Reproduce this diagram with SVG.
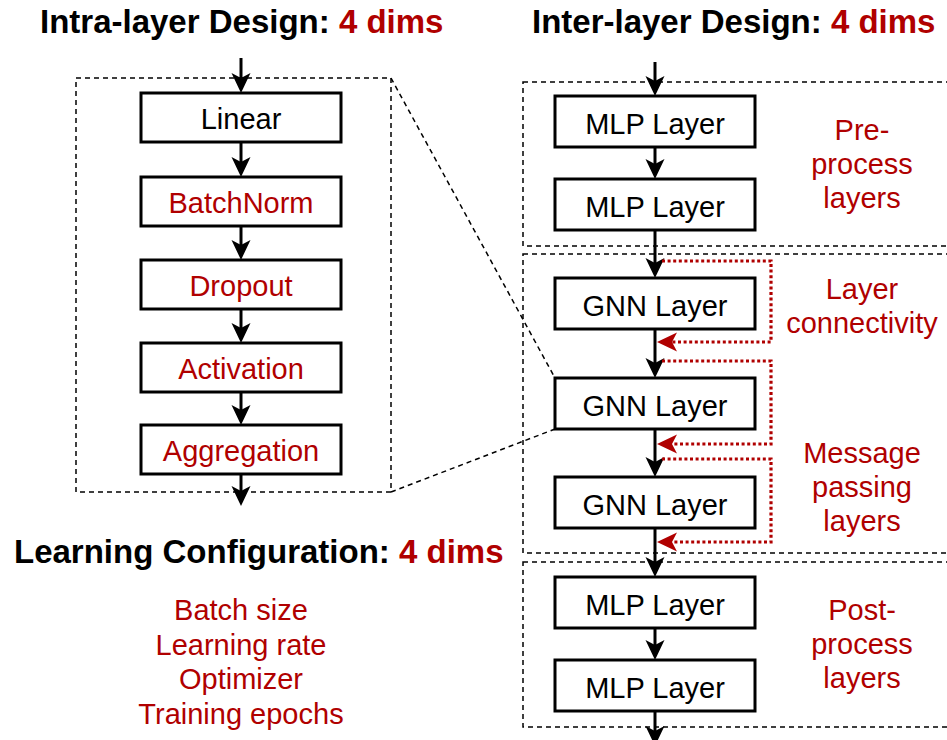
<svg xmlns="http://www.w3.org/2000/svg" width="947" height="740" viewBox="0 0 947 740">
  <style>
    text { font-family: "Liberation Sans", Arial, Helvetica, sans-serif; }
    .title { font-size: 33px; font-weight: bold; fill: #000; }
    .hl { fill: #b00000; }
    .lbl { font-size: 29px; text-anchor: middle; fill: #000; }
    .red { fill: #b00000; }
    .box { fill: #fff; stroke: #000; stroke-width: 3; }
    .region { fill: none; stroke: #000; stroke-width: 1.5; stroke-dasharray: 5 4; }
    .flow { fill: none; stroke: #000; stroke-width: 3; marker-end: url(#arrow); }
    .skip { fill: none; stroke: #b00000; stroke-width: 3.2; stroke-dasharray: 3 2.6; marker-end: url(#arrowRed); }
  </style>
  <defs>
    <marker id="arrow" viewBox="0 0 20 20" markerWidth="20" markerHeight="20" refX="16" refY="10" orient="auto" markerUnits="userSpaceOnUse">
      <path d="M0,0.5 L20,10 L0,19.5 L5,10 Z" fill="#000"/>
    </marker>
    <marker id="arrowRed" viewBox="0 0 20 20" markerWidth="20" markerHeight="20" refX="16" refY="10" orient="auto" markerUnits="userSpaceOnUse">
      <path d="M0,0.5 L20,10 L0,19.5 L5,10 Z" fill="#b00000"/>
    </marker>
  </defs>

  <!-- Section headings -->
  <text class="title" x="40" y="33">Intra-layer Design: <tspan class="hl">4 dims</tspan></text>
  <text class="title" x="532" y="33">Inter-layer Design: <tspan class="hl">4 dims</tspan></text>
  <text class="title" x="14" y="563">Learning Configuration: <tspan class="hl">4 dims</tspan></text>

  <!-- Dashed grouping regions -->
  <g id="regions">
    <rect class="region" x="76" y="78" width="315" height="414"/>
    <rect class="region" x="523" y="82" width="440" height="164"/>
    <rect class="region" x="523" y="254" width="440" height="299"/>
    <rect class="region" x="523" y="562" width="440" height="165"/>
    <!-- zoom lines from the layer detail to the GNN layer -->
    <line class="region" x1="391" y1="78" x2="555" y2="378"/>
    <line class="region" x1="391" y1="492" x2="555" y2="429"/>
  </g>

  <!-- Connectors -->
  <g id="connectors">
    <!-- intra-layer chain -->
    <line class="flow" x1="241" y1="58" x2="241" y2="89"/>
    <line class="flow" x1="241" y1="142" x2="241" y2="173"/>
    <line class="flow" x1="241" y1="226" x2="241" y2="256"/>
    <line class="flow" x1="241" y1="309" x2="241" y2="339"/>
    <line class="flow" x1="241" y1="392" x2="241" y2="421"/>
    <line class="flow" x1="241" y1="474" x2="241" y2="502"/>
    <!-- inter-layer chain -->
    <line class="flow" x1="655" y1="62" x2="655" y2="92"/>
    <line class="flow" x1="655" y1="147" x2="655" y2="175"/>
    <line class="flow" x1="655" y1="230" x2="655" y2="274"/>
    <line class="flow" x1="655" y1="329" x2="655" y2="374"/>
    <line class="flow" x1="655" y1="429" x2="655" y2="473"/>
    <line class="flow" x1="655" y1="528" x2="655" y2="573"/>
    <line class="flow" x1="655" y1="628" x2="655" y2="656"/>
    <line class="flow" x1="655" y1="711" x2="655" y2="742"/>
    <!-- skip connections -->
    <path class="skip" d="M662,261 H771 V342 H661"/>
    <path class="skip" d="M662,361 H771 V444 H661"/>
    <path class="skip" d="M662,459 H771 V542 H661"/>
  </g>

  <!-- Intra-layer nodes -->
  <g id="linear"><rect class="box" x="141" y="93" width="200" height="49"/><text class="lbl" x="241" y="129">Linear</text></g>
  <g id="batchnorm"><rect class="box" x="141" y="177" width="200" height="49"/><text class="lbl red" x="241" y="213">BatchNorm</text></g>
  <g id="dropout"><rect class="box" x="141" y="260" width="200" height="49"/><text class="lbl red" x="241" y="296">Dropout</text></g>
  <g id="activation"><rect class="box" x="141" y="343" width="200" height="49"/><text class="lbl red" x="241" y="379">Activation</text></g>
  <g id="aggregation"><rect class="box" x="141" y="425" width="200" height="49"/><text class="lbl red" x="241" y="461">Aggregation</text></g>

  <!-- Inter-layer nodes -->
  <g id="mlp-pre-1"><rect class="box" x="555" y="96" width="200" height="51"/><text class="lbl" x="655" y="134">MLP Layer</text></g>
  <g id="mlp-pre-2"><rect class="box" x="555" y="179" width="200" height="51"/><text class="lbl" x="655" y="217">MLP Layer</text></g>
  <g id="gnn-1"><rect class="box" x="555" y="278" width="200" height="51"/><text class="lbl" x="655" y="316">GNN Layer</text></g>
  <g id="gnn-2"><rect class="box" x="555" y="378" width="200" height="51"/><text class="lbl" x="655" y="416">GNN Layer</text></g>
  <g id="gnn-3"><rect class="box" x="555" y="477" width="200" height="51"/><text class="lbl" x="655" y="515">GNN Layer</text></g>
  <g id="mlp-post-1"><rect class="box" x="555" y="577" width="200" height="51"/><text class="lbl" x="655" y="615">MLP Layer</text></g>
  <g id="mlp-post-2"><rect class="box" x="555" y="660" width="200" height="51"/><text class="lbl" x="655" y="698">MLP Layer</text></g>

  <!-- Region labels -->
  <g id="label-pre">
    <text class="lbl red" x="862" y="140">Pre-</text>
    <text class="lbl red" x="862" y="174">process</text>
    <text class="lbl red" x="862" y="208">layers</text>
  </g>
  <g id="label-connectivity">
    <text class="lbl red" x="862" y="299">Layer</text>
    <text class="lbl red" x="862" y="333">connectivity</text>
  </g>
  <g id="label-mp">
    <text class="lbl red" x="862" y="463">Message</text>
    <text class="lbl red" x="862" y="497">passing</text>
    <text class="lbl red" x="862" y="531">layers</text>
  </g>
  <g id="label-post">
    <text class="lbl red" x="862" y="620">Post-</text>
    <text class="lbl red" x="862" y="654">process</text>
    <text class="lbl red" x="862" y="688">layers</text>
  </g>

  <!-- Learning configuration dimensions -->
  <g id="learning-config">
    <text class="lbl red" x="241" y="620">Batch size</text>
    <text class="lbl red" x="241" y="655">Learning rate</text>
    <text class="lbl red" x="241" y="689">Optimizer</text>
    <text class="lbl red" x="241" y="724">Training epochs</text>
  </g>
</svg>
